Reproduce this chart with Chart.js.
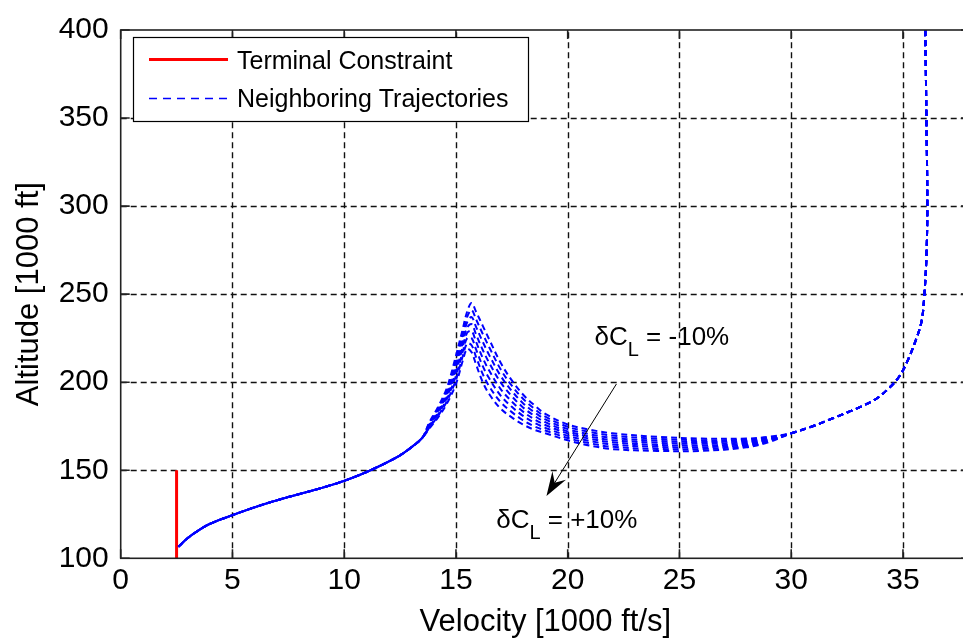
<!DOCTYPE html>
<html>
<head>
<meta charset="utf-8">
<script src="https://cdn.jsdelivr.net/npm/chart.js@4.4.0/dist/chart.umd.min.js"></script>
<style>
  html, body { margin: 0; padding: 0; background: #fff; overflow: hidden; }
  #wrap { position: absolute; left: 0; top: 0; width: 975px; height: 642px; }
</style>
</head>
<body>
<div id="wrap"><canvas id="chart" width="975" height="642"></canvas></div>
<script>
// velocity in 1000 ft/s, altitude in 1000 ft

// entry leg, same for every case
const headVel = [36.0, 36.05, 36.09, 36.05, 35.96, 35.84, 35.58, 35.2, 34.85, 34.4, 33.81, 32.92, 31.86, 30.96, 30.0];
const headAlt = [400, 350, 300, 271, 250, 235, 224, 212, 203.5, 197, 190.6, 185, 179.5, 175, 171];

// skip leg, one array per neighboring trajectory
const midVel = [29, 28, 26, 24, 22, 21, 20, 19, 18.5, 18, 17.5, 17, 16.5, 16.2, 15.9, 15.7, 15.5, 15.3, 15.0, 14.6, 14.2, 13.8];
const altCase1 = [169, 168, 168, 169, 171, 173, 176, 182, 187, 193, 201, 211, 224, 232, 240, 245, 240, 230, 215, 197, 186, 177];
const altCase2 = [168.5, 167.3, 167, 167.9, 169.7, 171.7, 174.7, 180.4, 185, 190.6, 198, 207.3, 219.6, 227.4, 235.7, 241, 237, 227.4, 212.7, 195.7, 185.1, 176.5];
const altCase3 = [168, 166.6, 166, 166.7, 168.4, 170.4, 173.4, 178.9, 183, 188.1, 195, 203.6, 215.1, 222.9, 231.4, 237, 234, 224.9, 210.4, 194.4, 184.3, 176];
const altCase4 = [167.7, 165.9, 165, 165.6, 167.1, 169.1, 172.1, 177.3, 181, 185.7, 192, 199.9, 210.7, 218.3, 227.1, 233, 231, 222.3, 208.1, 193.1, 183.4, 175.5];
const altCase5 = [167.3, 165.1, 164, 164.4, 165.9, 167.9, 170.9, 175.7, 179, 183.3, 189, 196.1, 206.3, 213.7, 222.9, 229, 228, 219.7, 205.9, 191.9, 182.6, 175];
const altCase6 = [166.9, 164.4, 163, 163.3, 164.6, 166.6, 169.6, 174.1, 177, 180.9, 186, 192.4, 201.9, 209.1, 218.6, 225, 225, 217.1, 203.6, 190.6, 181.7, 174.5];
const altCase7 = [166.4, 163.7, 162, 162.1, 163.3, 165.3, 168.3, 172.6, 175, 178.4, 183, 188.7, 197.4, 204.6, 214.3, 221, 222, 214.6, 201.3, 189.3, 180.9, 174];
const altCase8 = [166, 163, 161, 161, 162, 164, 167, 171, 173, 176, 180, 185, 193, 200, 210, 217, 219, 212, 199, 188, 180, 173.5];

// final descent, same for every case
const tailVel = [13.5, 13.0, 12.5, 12.0, 11.0, 10.0, 9.0, 8.0, 7.0, 6.0, 5.0, 4.0, 3.5, 3.0, 2.58];
const tailAlt = [168.5, 163, 158.5, 155, 149, 144, 140, 136.5, 133, 129, 124.5, 119.6, 116, 111.5, 106.5];

const constraintVel = [2.5, 2.5];
const constraintAlt = [100, 150];

const xTicks = [0, 5, 10, 15, 20, 25, 30, 35];
const yTicks = [100, 150, 200, 250, 300, 350, 400];

const FONT = '"Liberation Sans", Arial, sans-serif';
const BLUE = '#0000ff';
const RED = '#ff0000';
const DASH = [6, 4];

function toPoints(vel, alt) {
  return vel.map((v, i) => ({ x: v, y: alt[i] }));
}

function trajectory(midAlt) {
  return toPoints(headVel, headAlt)
    .concat(toPoints(midVel, midAlt))
    .concat(toPoints(tailVel, tailAlt));
}

const cases = [altCase1, altCase2, altCase3, altCase4, altCase5, altCase6, altCase7, altCase8];

const datasets = cases.map((alt, i) => ({
  label: i === 0 ? 'Neighboring Trajectories' : '',
  data: trajectory(alt),
  showLine: true,
  borderColor: BLUE,
  borderWidth: 2,
  borderDash: DASH,
  pointRadius: 0,
  tension: 0.35,
}));

datasets.push({
  label: 'Terminal Constraint',
  data: toPoints(constraintVel, constraintAlt),
  showLine: true,
  borderColor: RED,
  borderWidth: 3,
  pointRadius: 0,
});

// annotation anchors (data units)
const arrowFrom = { x: 22.18, y: 199 };
const arrowTo = { x: 19.05, y: 135.4 };
const noteMinus = { x: 21.2, y: 225.3, text: ' = -10%' };
const notePlus = { x: 16.8, y: 121.4, text: ' = +10%' };

function drawNote(ctx, x, y, rest) {
  ctx.textAlign = 'left';
  ctx.textBaseline = 'middle';
  ctx.font = '26px ' + FONT;
  ctx.fillText('δC', x, y);
  let w = ctx.measureText('δC').width;
  ctx.font = '20px ' + FONT;
  ctx.fillText('L', x + w, y + 13);
  w += ctx.measureText('L').width;
  ctx.font = '26px ' + FONT;
  ctx.fillText(rest, x + w, y);
}

function drawArrow(ctx, x0, y0, x1, y1) {
  const a = Math.atan2(y1 - y0, x1 - x0);
  const c = Math.cos(a), s = Math.sin(a);
  const L = 24, W = 8;
  ctx.beginPath();
  ctx.moveTo(x0, y0);
  ctx.lineTo(x1 - c * L * 0.6, y1 - s * L * 0.6);
  ctx.stroke();
  ctx.beginPath();
  ctx.moveTo(x1, y1);
  ctx.lineTo(x1 - c * L + s * W, y1 - s * L - c * W);
  ctx.lineTo(x1 - c * L * 0.65, y1 - s * L * 0.65);
  ctx.lineTo(x1 - c * L - s * W, y1 - s * L + c * W);
  ctx.closePath();
  ctx.fill();
}

const matlabLook = {
  id: 'matlabLook',
  beforeDatasetsDraw(chart) {
    const { ctx, chartArea: a, scales } = chart;
    ctx.save();
    ctx.strokeStyle = '#111';
    ctx.lineWidth = 1.4;
    ctx.setLineDash([6, 4]);
    xTicks.forEach(v => {
      if (v === scales.x.min) return;
      const x = Math.round(scales.x.getPixelForValue(v)) + 0.5;
      ctx.beginPath(); ctx.moveTo(x, a.bottom); ctx.lineTo(x, a.top); ctx.stroke();
    });
    yTicks.forEach(v => {
      if (v === scales.y.min || v === scales.y.max) return;
      const y = Math.round(scales.y.getPixelForValue(v)) + 0.5;
      ctx.beginPath(); ctx.moveTo(a.left, y); ctx.lineTo(a.right, y); ctx.stroke();
    });
    ctx.restore();
  },
  afterDatasetsDraw(chart) {
    const { ctx, chartArea: a, scales } = chart;
    const sx = scales.x, sy = scales.y;
    ctx.save();

    // axes box and inward ticks
    ctx.strokeStyle = '#222';
    ctx.lineWidth = 1.6;
    ctx.setLineDash([]);
    ctx.strokeRect(a.left, a.top, a.right - a.left, a.bottom - a.top);
    const tl = 9;
    xTicks.forEach(v => {
      const x = sx.getPixelForValue(v);
      ctx.beginPath();
      ctx.moveTo(x, a.bottom); ctx.lineTo(x, a.bottom - tl);
      ctx.moveTo(x, a.top); ctx.lineTo(x, a.top + tl);
      ctx.stroke();
    });
    yTicks.forEach(v => {
      const y = sy.getPixelForValue(v);
      ctx.beginPath();
      ctx.moveTo(a.left, y); ctx.lineTo(a.left + tl, y);
      ctx.moveTo(a.right, y); ctx.lineTo(a.right - tl, y);
      ctx.stroke();
    });

    // legend box
    ctx.fillStyle = '#fff';
    ctx.fillRect(133.5, 37.5, 395, 84);
    ctx.strokeStyle = '#000';
    ctx.lineWidth = 1.2;
    ctx.strokeRect(133.5, 37.5, 395, 84);
    ctx.lineWidth = 3;
    ctx.strokeStyle = RED;
    ctx.beginPath(); ctx.moveTo(149, 59.5); ctx.lineTo(228, 59.5); ctx.stroke();
    ctx.lineWidth = 1.5;
    ctx.strokeStyle = BLUE;
    ctx.setLineDash([8, 6]);
    ctx.beginPath(); ctx.moveTo(149, 98.5); ctx.lineTo(228, 98.5); ctx.stroke();
    ctx.setLineDash([]);
    ctx.fillStyle = '#000';
    ctx.font = '25px ' + FONT;
    ctx.textAlign = 'left';
    ctx.textBaseline = 'middle';
    ctx.fillText('Terminal Constraint', 237, 62);
    ctx.fillText('Neighboring Trajectories', 237, 100);

    // dCL notes and arrow
    ctx.fillStyle = '#000';
    drawNote(ctx, sx.getPixelForValue(noteMinus.x), sy.getPixelForValue(noteMinus.y), noteMinus.text);
    drawNote(ctx, sx.getPixelForValue(notePlus.x), sy.getPixelForValue(notePlus.y), notePlus.text);
    ctx.strokeStyle = '#000';
    ctx.lineWidth = 1;
    drawArrow(ctx,
      sx.getPixelForValue(arrowFrom.x), sy.getPixelForValue(arrowFrom.y),
      sx.getPixelForValue(arrowTo.x), sy.getPixelForValue(arrowTo.y));

    // axis titles
    ctx.font = '31px ' + FONT;
    ctx.textAlign = 'center';
    ctx.textBaseline = 'middle';
    ctx.fillText('Velocity [1000 ft/s]', (a.left + a.right) / 2, 622);
    ctx.translate(29, (a.top + a.bottom) / 2);
    ctx.rotate(-Math.PI / 2);
    ctx.fillText('Altitude [1000 ft]', 0, 0);

    ctx.restore();
  }
};

new Chart(document.getElementById('chart'), {
  type: 'scatter',
  data: { datasets },
  options: {
    responsive: false,
    animation: false,
    layout: { padding: { top: 24, right: 5, left: 0, bottom: 0 } },
    plugins: { legend: { display: false }, tooltip: { enabled: false } },
    scales: {
      x: {
        type: 'linear',
        min: 0,
        max: 38,
        afterBuildTicks: s => { s.ticks = xTicks.map(v => ({ value: v })); },
        afterFit: s => { s.height = 83.7; },
        grid: { display: false, drawTicks: false },
        border: { display: false },
        ticks: { color: '#000', padding: 4, font: { family: FONT, size: 30 } },
      },
      y: {
        type: 'linear',
        min: 100,
        max: 400,
        afterBuildTicks: s => { s.ticks = yTicks.map(v => ({ value: v })); },
        afterFit: s => { s.width = 120.7; },
        grid: { display: false, drawTicks: false },
        border: { display: false },
        ticks: { color: '#000', padding: 12, font: { family: FONT, size: 30 } },
      },
    },
  },
  plugins: [matlabLook],
});
</script>
</body>
</html>
